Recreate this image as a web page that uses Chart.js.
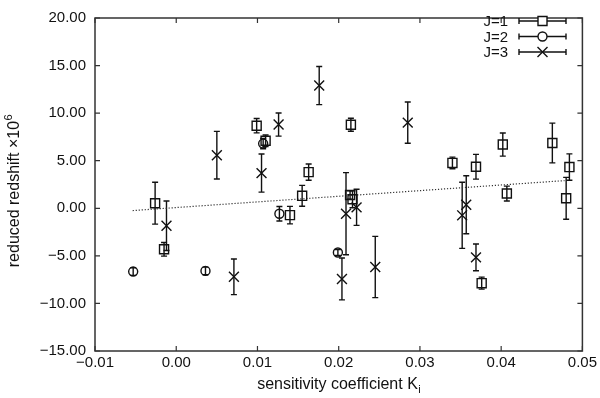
<!DOCTYPE html>
<html>
<head>
<meta charset="utf-8">
<script src="https://cdn.jsdelivr.net/npm/chart.js@4/dist/chart.umd.min.js"></script>
<style>
  html, body { margin: 0; padding: 0; background: #fff; }
  #wrap { width: 600px; height: 398px; }
</style>
</head>
<body>
<div id="wrap"><canvas id="c"></canvas></div>
<script>
// reduced redshift vs sensitivity coefficient, three J groups with error bars

const xTicks = [-0.01, 0.00, 0.01, 0.02, 0.03, 0.04, 0.05];
const yTicks = [-15, -10, -5, 0, 5, 10, 15, 20];

// J=1 (squares)
const j1X   = [-0.0026, -0.0015, 0.0099, 0.0110, 0.0140, 0.0155, 0.0163, 0.0215, 0.0214, 0.0217, 0.0340, 0.0369, 0.0376, 0.0402, 0.0407, 0.0463, 0.0480, 0.0484];
const j1Y   = [0.53, -4.31, 8.68, 7.1, -0.72, 1.31, 3.8, 8.78, 1.4, 0.95, 4.77, 4.37, -7.87, 6.7, 1.55, 6.86, 1.05, 4.33];
const j1Err = [2.2, 0.72, 0.75, 0.6, 0.92, 1.1, 0.85, 0.68, 0.45, 0.9, 0.61, 1.3, 0.63, 1.22, 0.78, 2.09, 2.2, 1.39];

// J=2 (circles)
const j2X   = [-0.0053, 0.0036, 0.0107, 0.0127, 0.0199];
const j2Y   = [-6.65, -6.58, 6.8, -0.57, -4.65];
const j2Err = [0.4, 0.4, 0.55, 0.76, 0.3];

// J=3 (crosses)
const j3X   = [-0.0012, 0.0050, 0.0071, 0.0105, 0.0126, 0.0176, 0.0204, 0.0209, 0.0222, 0.0245, 0.0285, 0.0352, 0.0357, 0.0369];
const j3Y   = [-1.84, 5.58, -7.2, 3.7, 8.8, 12.9, -7.43, -0.57, 0.1, -6.17, 9.0, -0.74, 0.37, -5.16];
const j3Err = [2.6, 2.5, 1.87, 2.0, 1.22, 2.0, 2.2, 4.32, 1.9, 3.22, 2.17, 3.47, 3.05, 1.4];

// dotted fit line end points
const fitX = [-0.00536, 0.0478];
const fitY = [-0.24, 2.91];

const INK = '#111';
const FONT = "'Liberation Sans', Arial, sans-serif";

function pts(xs, ys) {
  return xs.map((x, i) => ({ x: x, y: ys[i] }));
}

function fmt(v) {
  const s = Math.abs(v).toFixed(2);
  return (v < 0 && s !== '0.00' ? '\u2212' : '') + s;
}

function drawMark(ctx, style, x, y) {
  ctx.beginPath();
  if (style === 'rect') {
    ctx.rect(x - 4.5, y - 4.5, 9, 9);
  } else if (style === 'circle') {
    ctx.arc(x, y, 4.5, 0, Math.PI * 2);
  } else {
    ctx.moveTo(x - 5, y - 5); ctx.lineTo(x + 5, y + 5);
    ctx.moveTo(x + 5, y - 5); ctx.lineTo(x - 5, y + 5);
  }
  ctx.stroke();
}

// vertical error bars with caps
const errorBars = {
  id: 'errorBars',
  beforeDatasetsDraw(chart) {
    const { ctx, scales: { x, y } } = chart;
    ctx.save();
    ctx.strokeStyle = INK;
    ctx.lineWidth = 1.4;
    chart.data.datasets.forEach(ds => {
      if (!ds.errors) return;
      ds.data.forEach((p, i) => {
        const px = x.getPixelForValue(p.x);
        const top = y.getPixelForValue(p.y + ds.errors[i]);
        const bot = y.getPixelForValue(p.y - ds.errors[i]);
        ctx.beginPath();
        ctx.moveTo(px, top); ctx.lineTo(px, bot);
        ctx.moveTo(px - 3, top); ctx.lineTo(px + 3, top);
        ctx.moveTo(px - 3, bot); ctx.lineTo(px + 3, bot);
        ctx.stroke();
      });
    });
    ctx.restore();
  }
};

// frame, inward ticks, legend and axis titles
const frame = {
  id: 'frame',
  afterDraw(chart) {
    const { ctx, chartArea: a, scales: { x, y } } = chart;
    ctx.save();
    ctx.strokeStyle = '#333';
    ctx.lineWidth = 1.5;
    ctx.strokeRect(a.left, a.top, a.right - a.left, a.bottom - a.top);

    ctx.lineWidth = 1.2;
    ctx.beginPath();
    xTicks.forEach(v => {
      const px = x.getPixelForValue(v);
      ctx.moveTo(px, a.bottom); ctx.lineTo(px, a.bottom - 5);
      ctx.moveTo(px, a.top); ctx.lineTo(px, a.top + 5);
    });
    yTicks.forEach(v => {
      const py = y.getPixelForValue(v);
      ctx.moveTo(a.left, py); ctx.lineTo(a.left + 5, py);
      ctx.moveTo(a.right, py); ctx.lineTo(a.right - 5, py);
    });
    ctx.stroke();

    // legend
    const rows = [['J=1', 'rect'], ['J=2', 'circle'], ['J=3', 'cross']];
    ctx.fillStyle = INK;
    ctx.strokeStyle = INK;
    ctx.font = '15px ' + FONT;
    ctx.textAlign = 'right';
    ctx.textBaseline = 'middle';
    rows.forEach((r, i) => {
      const ly = 21 + i * 15.5;
      ctx.fillText(r[0], 508, ly + 1);
      ctx.lineWidth = 1.4;
      ctx.beginPath();
      ctx.moveTo(519, ly); ctx.lineTo(566, ly);
      ctx.moveTo(519, ly - 3); ctx.lineTo(519, ly + 3);
      ctx.moveTo(566, ly - 3); ctx.lineTo(566, ly + 3);
      ctx.stroke();
      ctx.fillStyle = '#fff';
      if (r[1] === 'rect') ctx.fillRect(538, ly - 4.5, 9, 9);
      if (r[1] === 'circle') { ctx.beginPath(); ctx.arc(542.5, ly, 4.5, 0, Math.PI * 2); ctx.fill(); }
      ctx.fillStyle = INK;
      drawMark(ctx, r[1], 542.5, ly);
    });

    // x title with subscript
    ctx.textAlign = 'left';
    ctx.textBaseline = 'alphabetic';
    ctx.font = '16px ' + FONT;
    const xt = 'sensitivity coefficient K';
    const w1 = ctx.measureText(xt).width;
    ctx.font = '11px ' + FONT;
    const w2 = ctx.measureText('i').width;
    const xs = (a.left + a.right) / 2 - (w1 + w2) / 2;
    ctx.font = '16px ' + FONT;
    ctx.fillText(xt, xs, 389);
    ctx.font = '11px ' + FONT;
    ctx.fillText('i', xs + w1 + 0.5, 393);

    // y title with superscript
    ctx.translate(19, 191);
    ctx.rotate(-Math.PI / 2);
    ctx.font = '16px ' + FONT;
    const yt = 'reduced redshift \u00d710';
    const v1 = ctx.measureText(yt).width;
    ctx.font = '11px ' + FONT;
    const v2 = ctx.measureText('6').width;
    const ys = -(v1 + v2) / 2;
    ctx.font = '16px ' + FONT;
    ctx.fillText(yt, ys, 0);
    ctx.font = '11px ' + FONT;
    ctx.fillText('6', ys + v1 + 0.5, -7);
    ctx.restore();
  }
};

const markerOpts = {
  borderColor: INK,
  backgroundColor: 'rgba(0,0,0,0)',
  borderWidth: 1.4,
  showLine: false
};

new Chart(document.getElementById('c'), {
  type: 'scatter',
  data: {
    datasets: [
      { label: 'J=1', data: pts(j1X, j1Y), errors: j1Err, pointStyle: 'rect', pointRadius: 6.4, ...markerOpts },
      { label: 'J=2', data: pts(j2X, j2Y), errors: j2Err, pointStyle: 'circle', pointRadius: 4.5, ...markerOpts },
      { label: 'J=3', data: pts(j3X, j3Y), errors: j3Err, pointStyle: 'crossRot', pointRadius: 7, ...markerOpts },
      {
        label: 'fit', data: pts(fitX, fitY), showLine: true, pointRadius: 0,
        borderColor: '#333', borderWidth: 1.2, borderDash: [1.2, 1.8], fill: false
      }
    ]
  },
  options: {
    responsive: true,
    maintainAspectRatio: false,
    animation: false,
    events: [],
    layout: { padding: { top: 7, right: 17, left: 0, bottom: 0 } },
    plugins: { legend: { display: false }, tooltip: { enabled: false } },
    scales: {
      x: {
        type: 'linear', min: -0.01, max: 0.05,
        afterBuildTicks: s => { s.ticks = xTicks.map(v => ({ value: v })); },
        afterFit: s => { s.height = 47; },
        grid: { display: false, drawTicks: false },
        border: { display: false },
        ticks: { padding: 3, color: INK, font: { family: FONT, size: 15 }, callback: fmt, maxRotation: 0, autoSkip: false }
      },
      y: {
        type: 'linear', min: -15, max: 20,
        afterBuildTicks: s => { s.ticks = yTicks.map(v => ({ value: v })); },
        afterFit: s => { s.width = 95; },
        grid: { display: false, drawTicks: false },
        border: { display: false },
        ticks: { padding: 9, color: INK, font: { family: FONT, size: 15 }, callback: fmt, autoSkip: false }
      }
    }
  },
  plugins: [errorBars, frame]
});
</script>
</body>
</html>
